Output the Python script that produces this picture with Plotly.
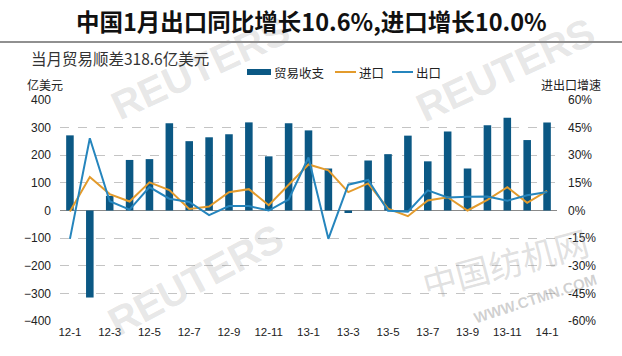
import plotly.graph_objects as go

months = ["12-1","12-2","12-3","12-4","12-5","12-6","12-7","12-8","12-9","12-10","12-11","12-12",
          "13-1","13-2","13-3","13-4","13-5","13-6","13-7","13-8","13-9","13-10","13-11","13-12","14-1"]
balance = [272, -315, 53, 183, 186, 316, 251, 265, 276, 319, 196, 316,
           290, 152, -9, 181, 204, 271, 178, 286, 152, 309, 336, 255, 318.6]
imports_growth = [-0.5, 18.2, 8.9, 4.9, 15.3, 11.1, 0.8, 2.2, 9.9, 11.6, 2.9, 14.0,
                  25.0, 21.8, 10.0, 14.7, 1.0, -3.1, 5.4, 7.2, 0.0, 5.8, 12.7, 4.2, 10.6]
exports_growth = [-15.4, 39.2, 5.0, 0.5, 12.7, 6.4, 4.6, -2.5, 2.4, 2.4, 0.0, 6.0,
                  28.8, -15.4, 14.0, 16.6, -0.2, -0.6, 10.9, 7.1, 7.4, 7.6, 5.3, 8.3, 10.0]
tick_labels = months[::2]
left_ticks = list(range(-400, 401, 100))
right_ticks = list(range(-60, 61, 15))
right_text = [f"{v}%" for v in right_ticks]

BAR = "#0b5884"
ORANGE = "#e39b2c"
BLUE = "#2585bd"
FONT = "Liberation Sans, Arial, sans-serif"
CJK = "Noto Sans CJK SC, sans-serif"

L, R, T, B = 60, 65, 100, 35
H = 356
PH = H - T - B
PW = 622 - L - R

def py(p):
    return (H - B - p) / PH

def px(p):
    return (p - L) / PW

fig = go.Figure()
fig.add_trace(go.Bar(x=months, y=balance, name="贸易收支", marker_color=BAR,
                     marker_line_width=0, yaxis="y"))
fig.add_trace(go.Scatter(x=months, y=imports_growth, name="进口", mode="lines",
                         line=dict(color=ORANGE, width=2), yaxis="y2"))
fig.add_trace(go.Scatter(x=months, y=exports_growth, name="出口", mode="lines",
                         line=dict(color=BLUE, width=2), yaxis="y2"))

annotations = []
# faint watermarks
wm = "rgba(150,150,150,0.24)"
for (x, y, a, s) in [(200, 68, -25, 40), (505, 70, -25, 40), (195, 280, -28, 40)]:
    annotations.append(dict(x=px(x), y=py(y), xref="paper", yref="paper", text="<b>REUTERS</b>",
                            xanchor="center", yanchor="middle",
                            showarrow=False, textangle=a, font=dict(family=FONT, size=s, color=wm)))
annotations.append(dict(x=px(505), y=py(262), xref="paper", yref="paper", text="中国纺机网",
                        xanchor="center", yanchor="middle",
                        showarrow=False, textangle=-15, font=dict(family=CJK, size=34, color="rgba(150,150,150,0.30)")))
annotations.append(dict(x=px(535), y=py(298), xref="paper", yref="paper", text="<b>WWW.CTMN.COM</b>",
                        xanchor="center", yanchor="middle",
                        showarrow=False, textangle=-18, font=dict(family=FONT, size=15, color="rgba(130,130,130,0.38)")))

annotations += [
    dict(x=px(311), y=py(21), xref="paper", yref="paper", text="<b>中国1月出口同比增长10.6%,进口增长10.0%</b>",
         showarrow=False, xanchor="center", yanchor="middle", font=dict(family=CJK, size=23.5, color="#111")),
    dict(x=px(29), y=py(58), xref="paper", yref="paper", text="当月贸易顺差318.6亿美元",
         showarrow=False, xanchor="left", yanchor="middle", font=dict(family=CJK, size=15.5, color="#333")),
    dict(x=px(25), y=py(84), xref="paper", yref="paper", text="亿美元",
         showarrow=False, xanchor="left", yanchor="middle", font=dict(family=CJK, size=12, color="#222")),
    dict(x=px(603), y=py(84), xref="paper", yref="paper", text="进出口增速",
         showarrow=False, xanchor="right", yanchor="middle", font=dict(family=CJK, size=12, color="#222")),
]

# manual legend
LEG_Y = 72
legend_items = [("贸易收支", "bar", BAR, 247, 271), ("进口", "line", ORANGE, 335, 356), ("出口", "line", BLUE, 392, 413)]
shapes = [dict(type="line", xref="paper", yref="paper", x0=px(0), x1=px(622), y0=py(42), y1=py(42),
               line=dict(color="#222", width=1.2))]
for name, kind, color, x0, x1 in legend_items:
    if kind == "bar":
        shapes.append(dict(type="rect", xref="paper", yref="paper", x0=px(x0), x1=px(x1),
                           y0=py(LEG_Y + 3), y1=py(LEG_Y - 3), fillcolor=color, line=dict(width=0)))
    else:
        shapes.append(dict(type="line", xref="paper", yref="paper", x0=px(x0), x1=px(x1),
                           y0=py(LEG_Y), y1=py(LEG_Y), line=dict(color=color, width=2)))
    annotations.append(dict(x=px(x1 + 1), y=py(LEG_Y), xref="paper", yref="paper", text=name,
                            showarrow=False, xanchor="left", yanchor="middle",
                            font=dict(family=CJK, size=12.5, color="#222")))

fig.update_layout(
    width=622, height=356,
    margin=dict(l=L, r=R, t=T, b=B, autoexpand=False),
    paper_bgcolor="white", plot_bgcolor="rgba(0,0,0,0)",
    font=dict(family=FONT, size=12, color="#222"),
    bargap=0.62,
    showlegend=False,
    xaxis=dict(type="category", tickmode="array", tickvals=tick_labels, ticktext=tick_labels,
               showgrid=False, showline=False, ticks="", tickfont=dict(size=11.5, color="#222"),
               ticklabelstandoff=2, fixedrange=True),
    yaxis=dict(range=[-400, 400], tickmode="array", tickvals=left_ticks,
               showgrid=True, gridcolor="#c4c4c4", griddash="dash", gridwidth=1,
               zeroline=True, zerolinecolor="#8a8a8a", zerolinewidth=1.5,
               showline=False, ticks="", ticklabelstandoff=8, tickfont=dict(size=12, color="#222")),
    yaxis2=dict(range=[-60, 60], tickmode="array", tickvals=right_ticks, ticktext=right_text,
                overlaying="y", side="right", showgrid=False, zeroline=False,
                showline=False, ticks="", ticklabelstandoff=10, tickfont=dict(size=12, color="#222")),
    annotations=annotations,
    shapes=shapes,
)

fig.write_html("out.html", config={"displayModeBar": False, "staticPlot": True},
               post_script="document.body.style.margin='0';document.body.style.padding='0';")
